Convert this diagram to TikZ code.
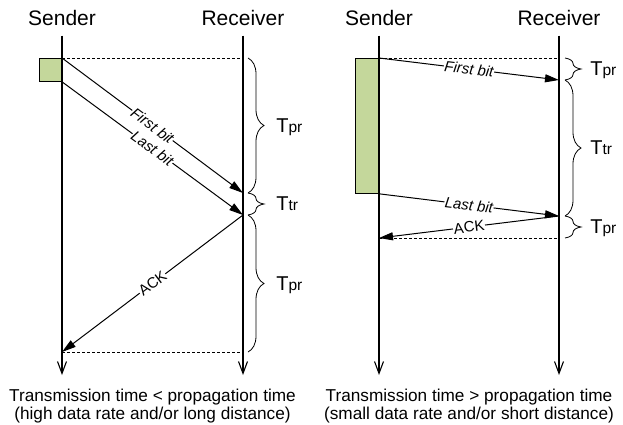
\documentclass[tikz,border=0pt]{standalone}
\usepackage{fontspec}
\setmainfont{Liberation Sans}
\usetikzlibrary{arrows.meta, positioning, calc, decorations.pathreplacing}
\definecolor{pktgreen}{RGB}{196,215,155}
\newcommand{\tsub}[1]{T{\fontsize{15.5}{15.5}\selectfont #1}}

\begin{document}
\begin{tikzpicture}[x=1pt, y=-1pt, >={Triangle[length=14pt,width=8pt]}, line width=1pt,
    head/.style={font=\fontsize{21}{21}\selectfont, anchor=base, inner sep=2pt},
    lifeline/.style={-{Straight Barb[length=12pt,width=9pt]}, line width=1.1pt, shorten <=8pt},
    msg/.style={->},
    bitlabel/.style={sloped, fill=white, inner sep=0.5pt, font=\fontsize{15}{15}\selectfont},
    packet/.style={draw, fill=pktgreen, line width=0.8pt, inner sep=0pt, anchor=north east},
    guide/.style={line width=0.6pt, dash pattern=on 3pt off 2pt},
    timebrace/.style={decorate, decoration={brace, amplitude=16pt}, line width=0.8pt},
    timelabel/.style={font=\fontsize{20}{20}\selectfont, text depth=0pt, inner sep=0pt},
    caption/.style={font=\fontsize{17.2}{14.5}\selectfont, align=center, anchor=north, inner sep=0pt}]
    \useasboundingbox (0,0) rectangle (623,424);

    % left: transmission time < propagation time
    \node[head] (sendA) at (62,25) {Sender};
    \node[head] (recvA) at (243,25) {Receiver};
    \coordinate (sendAend) at (62,375);
    \coordinate (recvAend) at (243,375);
    \draw[lifeline] (sendA.south) -- (sendAend);
    \draw[lifeline] (recvA.south) -- (recvAend);

    \node[packet, minimum width=22pt, minimum height=23pt] (pktA) at (62,58) {};
    \coordinate (topA) at (243,58);
    \coordinate (firstA) at (243,193);
    \coordinate (lastA) at (243,215);
    \coordinate (ackA) at (62,352);
    \coordinate (botA) at (243,352);

    \draw[guide] (pktA.north east) -- (topA);
    \draw[guide] (ackA) -- (botA);
    \path
    (pktA.north east) edge[msg] node[bitlabel] {\itshape First bit} (firstA)
    (pktA.south east) edge[msg] node[bitlabel] {\itshape Last bit} (lastA)
    (lastA) edge[msg] node[bitlabel] {ACK} (ackA);

    \draw[timebrace] ([xshift=5pt]topA) -- node[timelabel, right=28pt] (tprA) {\tsub{pr}} ([xshift=5pt]firstA);
    \draw[timebrace] ([xshift=5pt]firstA) -- node[timelabel, right=28pt] (ttrA) {\tsub{tr}} ([xshift=5pt]lastA);
    \draw[timebrace] ([xshift=5pt]lastA) -- node[timelabel, right=28pt] (tpaA) {\tsub{pr}} ([xshift=5pt]botA);

    \node[caption] (capA) at (152.5,389) {Transmission time < propagation time\\(high data rate and/or long distance)};

    % right: transmission time > propagation time
    \node[head] (sendB) at (379,25) {Sender};
    \node[head] (recvB) at (559,25) {Receiver};
    \coordinate (sendBend) at (379,375);
    \coordinate (recvBend) at (559,375);
    \draw[lifeline] (sendB.south) -- (sendBend);
    \draw[lifeline] (recvB.south) -- (recvBend);

    \node[packet, minimum width=23pt, minimum height=135pt] (pktB) at (379,58) {};
    \coordinate (topB) at (559,58);
    \coordinate (firstB) at (559,80);
    \coordinate (lastB) at (559,216);
    \coordinate (ackB) at (379,238);
    \coordinate (botB) at (559,238);

    \draw[guide] (pktB.north east) -- (topB);
    \draw[guide] (ackB) -- (botB);
    \path
    (pktB.north east) edge[msg] node[bitlabel] {\itshape First bit} (firstB)
    (pktB.south east) edge[msg] node[bitlabel] {\itshape Last bit} (lastB)
    (lastB) edge[msg] node[bitlabel] {ACK} (ackB);

    \draw[timebrace] ([xshift=6pt]topB) -- node[timelabel, right=25pt] (tprB) {\tsub{pr}} ([xshift=6pt]firstB);
    \draw[timebrace] ([xshift=6pt]firstB) -- node[timelabel, right=25pt] (ttrB) {\tsub{tr}} ([xshift=6pt]lastB);
    \draw[timebrace] ([xshift=6pt]lastB) -- node[timelabel, right=25pt] (tpaB) {\tsub{pr}} ([xshift=6pt]botB);

    \node[caption] (capB) at (469,389) {Transmission time > propagation time\\(small data rate and/or short distance)};
\end{tikzpicture}
\end{document}
